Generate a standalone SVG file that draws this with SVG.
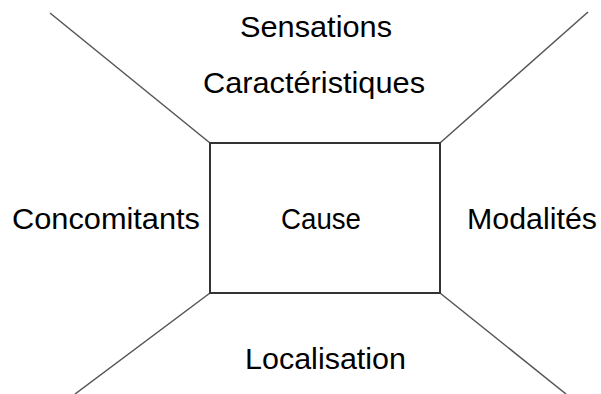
<svg xmlns="http://www.w3.org/2000/svg" width="601" height="394" viewBox="0 0 601 394">
<style>
.lbl{font-family:"Liberation Sans",Arial,sans-serif;font-size:29px;fill:#000}
.ln{stroke:#555;stroke-width:1.5;fill:none}
.box{stroke:#333;stroke-width:2;fill:#fff}
</style>
<rect width="601" height="394" fill="#fff"/>
<g id="connectors">
<line class="ln" x1="50" y1="13" x2="210" y2="143"/>
<line class="ln" x1="588" y1="12" x2="440" y2="143"/>
<line class="ln" x1="210" y1="293" x2="75" y2="394"/>
<line class="ln" x1="440" y1="293" x2="566" y2="394"/>
</g>
<g id="cause">
<rect class="box" x="210" y="143" width="230" height="150"/>
<text class="lbl" x="281" y="229" textLength="80" lengthAdjust="spacingAndGlyphs">Cause</text>
</g>
<g id="sensations">
<text class="lbl" x="240" y="37" textLength="152" lengthAdjust="spacingAndGlyphs">Sensations</text>
<text class="lbl" x="203" y="93" textLength="222" lengthAdjust="spacingAndGlyphs">Caractéristiques</text>
</g>
<g id="concomitants">
<text class="lbl" x="12" y="229" textLength="188" lengthAdjust="spacingAndGlyphs">Concomitants</text>
</g>
<g id="modalites">
<text class="lbl" x="467" y="229" textLength="130" lengthAdjust="spacingAndGlyphs">Modalités</text>
</g>
<g id="localisation">
<text class="lbl" x="245" y="369" textLength="161" lengthAdjust="spacingAndGlyphs">Localisation</text>
</g>
</svg>
